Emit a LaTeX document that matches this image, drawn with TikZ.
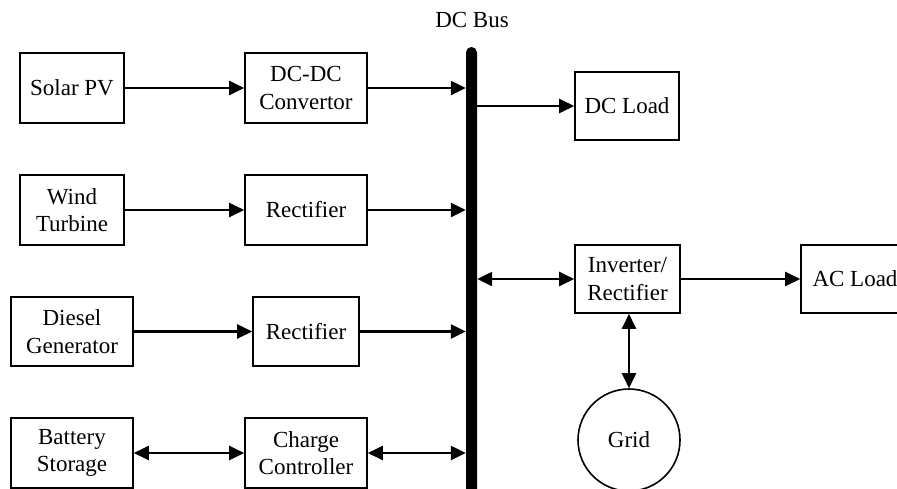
\documentclass[tikz,border=0pt]{standalone}
\usepackage{fontspec}
\setmainfont{Liberation Serif}
\usetikzlibrary{arrows.meta}
\begin{document}
\begin{tikzpicture}[x=1pt,y=-1pt,
  every node/.style={font=\fontsize{23}{27.5}\selectfont},
  blk/.style={draw, line width=1.6pt, rectangle, inner sep=0pt, align=center},
  conn/.style={line width=2.4pt, -{Triangle[length=15pt,width=14pt]}},
  biconn/.style={line width=2.4pt, {Triangle[length=15pt,width=14pt]}-{Triangle[length=15pt,width=14pt]}}]
\useasboundingbox (0,0) rectangle (897,488);
\clip (0,0) rectangle (897,488);
% bus
\node[fill=black, rectangle, rounded corners=5.4pt, inner sep=0pt, minimum width=11pt, minimum height=460pt] (bus) at (471.5,277) {};
\node (buslabel) at (472,20) {DC Bus};
% left column
\node[blk, minimum width=104pt, minimum height=70pt] (solar) at (72,88) {Solar PV};
\node[blk, minimum width=104pt, minimum height=70pt] (wind) at (72,210) {Wind\\Turbine};
\node[blk, minimum width=122pt, minimum height=69pt] (diesel) at (72,331.5) {Diesel\\Generator};
\node[blk, minimum width=122pt, minimum height=70pt] (battery) at (72,453) {Battery\\Storage};
% middle column
\node[blk, minimum width=122pt, minimum height=70pt] (dcdc) at (306,88) {DC-DC\\Convertor};
\node[blk, minimum width=122pt, minimum height=70pt] (rect1) at (306,210) {Rectifier};
\node[blk, minimum width=106pt, minimum height=69pt] (rect2) at (306,331.5) {Rectifier};
\node[blk, minimum width=122pt, minimum height=70pt] (charge) at (306,453) {Charge\\Controller};
% right side
\node[blk, minimum width=104pt, minimum height=68pt] (dcload) at (627,106) {DC Load};
\node[blk, minimum width=105pt, minimum height=68pt] (inv) at (627.5,279) {Inverter/\\Rectifier};
\node[blk, minimum width=108pt, minimum height=68pt] (acload) at (855,279) {AC Load};
\node[draw, line width=1.6pt, circle, inner sep=0pt, minimum size=102pt] (grid) at (629,440) {Grid};
% connectors
\draw[conn] (solar) -- (dcdc);
\draw[conn] (wind) -- (rect1);
\draw[conn] (diesel) -- (rect2);
\draw[biconn] (battery) -- (charge);
\draw[conn] (dcdc) -- (dcdc -| bus.west);
\draw[conn] (rect1) -- (rect1 -| bus.west);
\draw[conn] (rect2) -- (rect2 -| bus.west);
\draw[biconn] (charge) -- (charge -| bus.west);
\draw[conn] (bus.east |- dcload) -- (dcload);
\draw[biconn] (bus.east |- inv) -- (inv);
\draw[conn] (inv) -- (acload);
\draw[biconn] (inv.south -| grid) -- (grid);
\end{tikzpicture}
\end{document}
